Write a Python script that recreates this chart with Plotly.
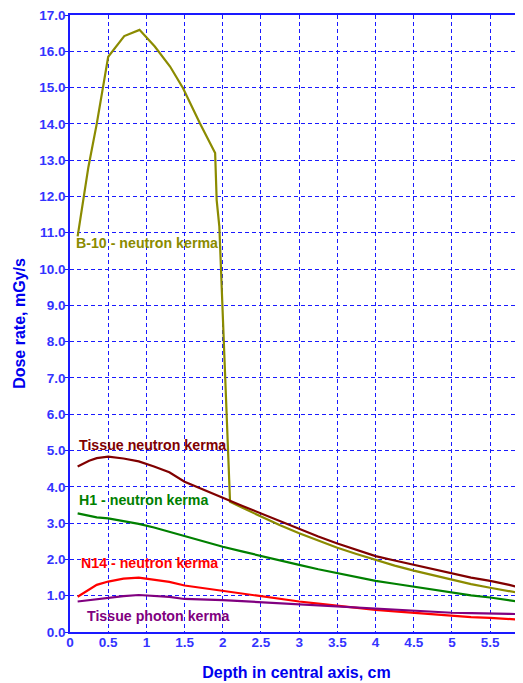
import plotly.graph_objects as go

# Depth (cm) for smooth curves
depth = [0.1, 0.25, 0.35, 0.5, 0.7, 0.9, 1.1, 1.3, 1.5, 1.7, 1.9, 2.0, 2.25, 2.5, 2.75, 3.0, 3.25, 3.5, 3.75, 4.0, 4.25, 4.5, 4.75, 5.0, 5.25, 5.5, 5.75, 5.95]

# B-10 neutron kerma (its own x grid because of the steep drop)
b10_depth = [0.1, 0.24, 0.35, 0.5, 0.71, 0.91, 1.11, 1.31, 1.48, 1.7, 1.9, 1.92, 1.955, 1.99, 2.01, 2.05, 2.07, 2.095, 2.3, 2.5, 2.75, 3.0, 3.25, 3.5, 3.75, 4.0, 4.25, 4.5, 4.75, 5.0, 5.25, 5.5, 5.75, 5.95]
b10 = [10.9, 12.8, 14.0, 15.85, 16.42, 16.59, 16.13, 15.58, 14.98, 14.02, 13.2, 11.9, 11.17, 9.15, 7.96, 6.03, 4.56, 3.59, 3.38, 3.18, 2.94, 2.72, 2.52, 2.32, 2.15, 1.98, 1.83, 1.69, 1.56, 1.43, 1.32, 1.22, 1.13, 1.05]

tissue_neutron = [4.56, 4.72, 4.79, 4.83, 4.78, 4.70, 4.56, 4.40, 4.14, 3.97, 3.80, 3.70, 3.48, 3.27, 3.05, 2.83, 2.63, 2.44, 2.26, 2.09, 1.97, 1.85, 1.72, 1.60, 1.50, 1.41, 1.30, 1.19]
h1 = [3.27, 3.20, 3.16, 3.13, 3.06, 2.98, 2.88, 2.76, 2.63, 2.52, 2.40, 2.35, 2.22, 2.09, 1.97, 1.85, 1.73, 1.62, 1.51, 1.41, 1.33, 1.25, 1.16, 1.07, 1.01, 0.95, 0.88, 0.81]
n14 = [0.97, 1.18, 1.30, 1.39, 1.47, 1.50, 1.45, 1.38, 1.28, 1.22, 1.16, 1.14, 1.05, 0.97, 0.90, 0.84, 0.78, 0.72, 0.66, 0.61, 0.57, 0.53, 0.48, 0.44, 0.41, 0.39, 0.36, 0.33]
tissue_photon = [0.84, 0.88, 0.91, 0.95, 0.99, 1.02, 1.00, 0.97, 0.91, 0.90, 0.89, 0.88, 0.85, 0.82, 0.79, 0.76, 0.73, 0.70, 0.66, 0.63, 0.60, 0.58, 0.55, 0.53, 0.52, 0.52, 0.50, 0.49]

x_ticks = [0, 0.5, 1, 1.5, 2, 2.5, 3, 3.5, 4, 4.5, 5, 5.5]
x_tick_labels = ["0", "0.5", "1", "1.5", "2", "2.5", "3", "3.5", "4", "4.5", "5", "5.5"]
y_ticks = [i for i in range(0, 18)]
y_tick_labels = [f"{v:.1f}" for v in y_ticks]

label_texts = ["B-10 - neutron kerma", "Tissue neutron kerma", "H1 - neutron kerma", "N14 - neutron kerma", "Tissue photon kerma"]
label_x = [0.08, 0.12, 0.12, 0.14, 0.22]
label_y = [10.72, 5.15, 3.64, 1.90, 0.44]

colors = ["#8B8B00", "#800000", "#008000", "#FF0000", "#800080"]

fig = go.Figure()
series = [
    (b10_depth, b10),
    (depth, tissue_neutron),
    (depth, h1),
    (depth, n14),
    (depth, tissue_photon),
]
for (xs, ys), c, name in zip(series, colors, label_texts):
    fig.add_trace(go.Scatter(x=xs, y=ys, mode="lines", name=name,
                             line=dict(color=c, width=2.2), showlegend=False))

for t, x, y, c in zip(label_texts, label_x, label_y, colors):
    fig.add_annotation(x=x, y=y, text=t, showarrow=False, xanchor="left", yanchor="middle",
                       xshift=-2,
                       font=dict(family="Liberation Sans, Arial", size=14.2, color=c, weight="bold"))

blue = "#1a1aff"
# the page body adds an 8px margin, so the figure is sized to fill the rest of the window
fig.update_layout(
    width=515, height=675,
    margin=dict(l=62, r=0, t=7, b=51),
    paper_bgcolor="white", plot_bgcolor="white",
    font=dict(family="Liberation Sans, Arial", color=blue),
    xaxis=dict(
        range=[0, 5.93], tickvals=x_ticks, ticktext=x_tick_labels,
        showline=True, linecolor=blue, linewidth=1.5, mirror=True,
        showgrid=True, gridcolor=blue, gridwidth=1.2, griddash="4px,3px",
        zeroline=False, ticks="", ticklen=0, ticklabelstandoff=-3,
        ticklabeloverflow="allow",
        tickfont=dict(size=13.5, color="#3333ff", weight="bold"),
        title=dict(text="Depth in central axis, cm", standoff=18,
                   font=dict(size=16, color="#0000ee", weight="bold")),
    ),
    yaxis=dict(
        range=[0, 17], tickvals=y_ticks, ticktext=y_tick_labels,
        showline=True, linecolor=blue, linewidth=1.5, mirror=False,
        showgrid=True, gridcolor=blue, gridwidth=1.2, griddash="4px,3px",
        zeroline=False, ticks="outside", ticklen=3, tickcolor=blue,
        ticklabelstandoff=-3, ticklabeloverflow="allow",
        tickfont=dict(size=13.5, color="#3333ff", weight="bold"),
        title=dict(text="Dose rate, mGy/s", standoff=10,
                   font=dict(size=16, color="#0000ee", weight="bold")),
    ),
)

fig.write_html("out.html")
